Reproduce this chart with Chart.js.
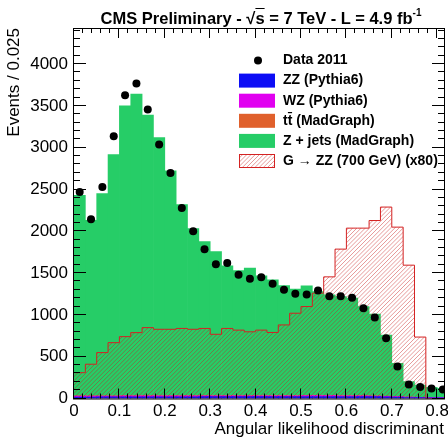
<!DOCTYPE html>
<html>
<head>
<meta charset="utf-8">
<script src="https://cdn.jsdelivr.net/npm/chart.js@4.4.1/dist/chart.umd.min.js"></script>
<style>
  html, body { margin: 0; padding: 0; background: #fff; overflow: hidden; }
  #wrap { position: relative; width: 448px; height: 438px; }
  #title { position: absolute; left: 74px; width: 374px; top: 9px; text-align: center;
           font: bold 16.5px "Liberation Sans", Arial, sans-serif; white-space: nowrap; color: #000; }
  #title .ov { text-decoration: overline; }
  #title sup { font-size: 10px; vertical-align: 0; position: relative; top: -8px; }
</style>
</head>
<body>
<div id="wrap">
  <canvas id="chart"></canvas>
  <div id="title">CMS Preliminary - √<span class="ov">s</span> = 7 TeV - L = 4.9 fb<sup>-1</sup></div>
</div>
<script>
// Angular likelihood discriminant, 33 bins of 0.025
const binWidth = 0.025;

const dataValues   = [2471, 2144, 2531, 3138, 3629, 3769, 3457, 3038, 2698, 2279, 2002, 1784, 1605, 1621, 1481, 1433, 1449, 1373, 1302, 1254, 1245, 1293, 1222, 1222, 1206, 1080, 968, 722, 383, 167, 138, 119, 109];
const zzValues     = [18, 18, 19, 19, 20, 20, 20, 21, 21, 21, 21, 22, 22, 22, 22, 22, 23, 23, 23, 23, 24, 24, 24, 24, 24, 23, 22, 20, 16, 12, 10, 8, 7];
const wzValues     = [10, 10, 10, 11, 11, 11, 11, 11, 11, 11, 10, 10, 10, 10, 10, 10, 10, 10, 10, 10, 10, 10, 10, 9, 9, 9, 8, 7, 6, 5, 4, 4, 3];
const ttValues     = [3, 3, 3, 3, 3, 3, 3, 3, 3, 3, 3, 3, 3, 3, 3, 3, 3, 3, 3, 3, 3, 3, 3, 3, 3, 3, 2, 2, 2, 1, 1, 1, 1];
const zjetsValues  = [2400, 2101, 2419, 2885, 3467, 3607, 3355, 3087, 2687, 2285, 1998, 1843, 1723, 1552, 1496, 1524, 1431, 1383, 1314, 1274, 1310, 1242, 1203, 1184, 1164, 1065, 978, 731, 397, 183, 147, 121, 111];
const signalValues = [309, 410, 549, 668, 740, 788, 848, 828, 828, 838, 828, 838, 768, 838, 818, 798, 818, 790, 880, 1020, 1100, 1260, 1455, 1787, 2038, 2038, 2129, 2290, 2050, 1595, 735, 0, 0];

const xTickValues = [0, 0.1, 0.2, 0.3, 0.4, 0.5, 0.6, 0.7, 0.8];
const yTickValues = [0, 500, 1000, 1500, 2000, 2500, 3000, 3500, 4000];
const xMinorStep = 0.02, yMinorStep = 100;

const FONT = '"Liberation Sans", Arial, sans-serif';
const HATCH = 'rgba(200,30,30,0.45)';

// bins -> points at bin centres (bars, dots) or bin edges (step outline)
const atCentres = vals => vals.map((v, i) => ({x: (i + 0.5) * binWidth, y: v}));
const atEdges = vals => vals.map((v, i) => ({x: i * binWidth, y: v})).concat([{x: vals.length * binWidth, y: 0}]);

// "/" hatch lines inside the current clip
function strokeHatch(ctx, left, top, right, bottom) {
  const h = bottom - top;
  ctx.strokeStyle = HATCH;
  ctx.lineWidth = 1;
  ctx.beginPath();
  for (let k = left - h; k < right; k += 4.2) {
    ctx.moveTo(k, bottom);
    ctx.lineTo(k + h, top);
  }
  ctx.stroke();
}

const barStyle = {type: 'bar', stack: 'mc', barPercentage: 1, categoryPercentage: 1, borderWidth: 0};

const frameAndLegend = {
  id: 'frameAndLegend',
  beforeDatasetDraw(chart, args) {
    if (!args.meta.dataset || !chart.data.datasets[args.index].hatched) return;
    const {ctx, chartArea: a} = chart;
    const pts = args.meta.data;
    const base = chart.scales.y.getPixelForValue(0);
    ctx.save();
    ctx.beginPath();
    ctx.rect(a.left, a.top, a.right - a.left, a.bottom - a.top);
    ctx.clip();
    ctx.beginPath();
    ctx.moveTo(pts[0].x, base);
    pts.forEach((p, i) => {
      if (i > 0) ctx.lineTo(p.x, pts[i - 1].y);
      ctx.lineTo(p.x, p.y);
    });
    ctx.lineTo(pts[pts.length - 1].x, base);
    ctx.closePath();
    ctx.clip();
    strokeHatch(ctx, a.left, a.top, a.right, a.bottom);
    ctx.restore();
  },
  afterDatasetsDraw(chart) {
    const {ctx, chartArea: a, scales: {x, y}} = chart;
    ctx.save();
    ctx.strokeStyle = '#000';
    ctx.lineWidth = 1;
    ctx.strokeRect(a.left - 0.5, a.top + 0.5, a.right - a.left + 1, a.bottom - a.top);
    ctx.beginPath();
    for (let i = 0; i * xMinorStep <= x.max + 1e-9; i++) {
      const px = Math.round(x.getPixelForValue(i * xMinorStep)) - 0.5;
      const len = i % 5 === 0 ? 10 : 5;
      ctx.moveTo(px, a.bottom); ctx.lineTo(px, a.bottom - len);
      ctx.moveTo(px, a.top); ctx.lineTo(px, a.top + len);
    }
    for (let i = 0; i * yMinorStep <= y.max; i++) {
      const py = Math.round(y.getPixelForValue(i * yMinorStep)) - 0.5;
      const len = i % 5 === 0 ? 12 : 6;
      ctx.moveTo(a.left, py); ctx.lineTo(a.left + len, py);
      ctx.moveTo(a.right, py); ctx.lineTo(a.right - len, py);
    }
    ctx.stroke();
    ctx.restore();
  },
  afterDraw(chart) {
    const ctx = chart.ctx;
    const ds = chart.data.datasets;
    ctx.save();
    ctx.font = 'bold 14px ' + FONT;
    ctx.textBaseline = 'middle';
    [0, 2, 3, 4, 5, 1].forEach((di, row) => {
      const d = ds[di];
      const cy = 60.5 + row * 20.1;
      if (d.showLine === false) {
        ctx.fillStyle = d.backgroundColor;
        ctx.beginPath();
        ctx.arc(258, cy, d.pointRadius, 0, Math.PI * 2);
        ctx.fill();
      } else if (d.hatched) {
        ctx.save();
        ctx.beginPath();
        ctx.rect(239, cy - 7, 36, 14);
        ctx.clip();
        strokeHatch(ctx, 239, cy - 7, 275, cy + 7);
        ctx.restore();
        ctx.strokeStyle = d.borderColor;
        ctx.lineWidth = 1;
        ctx.strokeRect(239.5, cy - 6.5, 35, 13);
      } else {
        ctx.fillStyle = d.backgroundColor;
        ctx.fillRect(239, cy - 7, 36, 14);
      }
      ctx.fillStyle = '#000';
      ctx.fillText(d.label, 283, cy);
    });
    ctx.restore();
  }
};

new Chart(document.getElementById('chart'), {
  type: 'bar',
  data: {
    datasets: [
      {type: 'line', label: 'Data 2011', data: atCentres(dataValues), showLine: false, stack: 'data',
       pointRadius: 4, backgroundColor: '#000', borderWidth: 0, order: 0},
      {type: 'line', label: 'G \u2192 ZZ (700 GeV) (x80)', data: atEdges(signalValues), stack: 'sig',
       stepped: 'before', fill: false, hatched: true, pointRadius: 0, borderColor: '#d42222', borderWidth: 1,
       backgroundColor: 'transparent', order: 1},
      {...barStyle, label: 'ZZ (Pythia6)', data: atCentres(zzValues), backgroundColor: '#0d0df5', order: 2},
      {...barStyle, label: 'WZ (Pythia6)', data: atCentres(wzValues), backgroundColor: '#e100f0', order: 3},
      {...barStyle, label: 'tt\u0304 (MadGraph)', data: atCentres(ttValues), backgroundColor: '#e0602c', order: 4},
      {...barStyle, label: 'Z + jets (MadGraph)', data: atCentres(zjetsValues), backgroundColor: '#26cd67', order: 5}
    ]
  },
  options: {
    responsive: true,
    maintainAspectRatio: false,
    animation: false,
    events: [],
    devicePixelRatio: 1,
    layout: {padding: {top: 28, left: 0, right: 0, bottom: 0}},
    plugins: {legend: {display: false}, tooltip: {enabled: false}},
    scales: {
      x: {
        type: 'linear', min: 0, max: 0.815, offset: false,
        grid: {display: false, drawTicks: false, offset: false}, border: {display: false},
        afterBuildTicks: s => { s.ticks = xTickValues.map(v => ({value: v})); },
        afterFit: s => { s.height = 39.5; s.paddingLeft = 0; s.paddingRight = 0; },
        ticks: {autoSkip: false, maxRotation: 0, padding: 3, color: '#000',
                font: {family: FONT, size: 17}, callback: v => String(v)},
        title: {display: true, text: 'Angular likelihood discriminant', align: 'end', color: '#000',
                padding: 0, font: {family: FONT, size: 17, lineHeight: 1}}
      },
      y: {
        stacked: true, min: 0, max: 4432,
        grid: {display: false, drawTicks: false}, border: {display: false},
        afterBuildTicks: s => { s.ticks = yTickValues.map(v => ({value: v})); },
        afterFit: s => { s.width = 74; },
        ticks: {autoSkip: false, padding: 6, color: '#000', font: {family: FONT, size: 17},
                callback: v => String(v)},
        title: {display: true, text: 'Events / 0.025', align: 'end', color: '#000',
                padding: {top: 4, bottom: 0}, font: {family: FONT, size: 17, lineHeight: 1.2}}
      }
    }
  },
  plugins: [frameAndLegend]
});
</script>
</body>
</html>
